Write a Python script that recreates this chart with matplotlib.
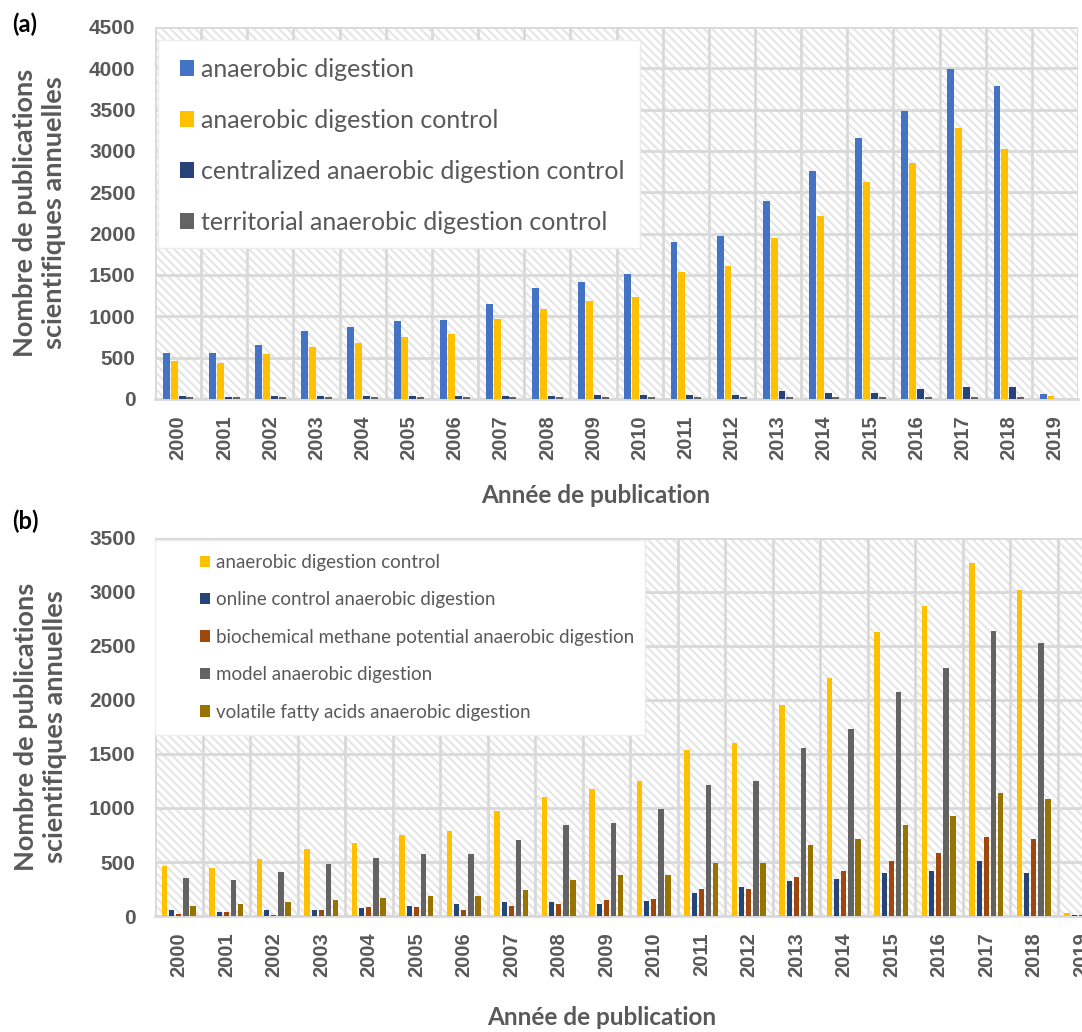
import matplotlib.pyplot as plt
import numpy as np
from matplotlib.patches import Rectangle

plt.rcParams['font.family'] = ['Lato', 'DejaVu Sans']
plt.rcParams['hatch.linewidth'] = 1.6
plt.rcParams['hatch.color'] = '#e6e6e6'

years = [str(y) for y in range(2000, 2020)]

# panel (a)
ad = [560, 560, 650, 820, 870, 940, 960, 1150, 1340, 1420, 1510, 1900, 1970, 2400, 2760, 3160, 3480, 3990, 3790, 60]
adc = [460, 440, 540, 630, 680, 750, 790, 970, 1090, 1180, 1230, 1540, 1610, 1950, 2210, 2620, 2860, 3280, 3020, 30]
central = [30, 20, 30, 30, 30, 30, 30, 30, 30, 50, 50, 50, 50, 100, 70, 70, 120, 145, 145, 0]
territorial = [25, 25, 25, 25, 25, 25, 25, 25, 25, 25, 20, 25, 20, 25, 20, 20, 20, 20, 20, 0]

# panel (b)
adc_b = [460, 440, 530, 620, 680, 750, 790, 970, 1100, 1180, 1250, 1540, 1600, 1950, 2200, 2630, 2870, 3270, 3020, 30]
online = [60, 40, 55, 55, 75, 95, 115, 130, 130, 115, 142, 216, 272, 327, 346, 401, 420, 509, 401, 10]
bmp = [20, 40, 5, 55, 80, 80, 60, 95, 115, 150, 160, 253, 253, 364, 420, 509, 583, 731, 713, 10]
model = [350, 333, 407, 481, 534, 571, 571, 700, 840, 860, 990, 1210, 1250, 1560, 1730, 2070, 2300, 2640, 2530, 0]
vfa = [96, 115, 133, 151, 170, 188, 188, 244, 333, 380, 380, 491, 491, 657, 713, 843, 930, 1140, 1080, 10]

labels_a = ['anaerobic digestion', 'anaerobic digestion control',
            'centralized anaerobic digestion control', 'territorial anaerobic digestion control']
labels_b = ['anaerobic digestion control', 'online control anaerobic digestion',
            'biochemical methane potential anaerobic digestion', 'model anaerobic digestion',
            'volatile fatty acids anaerobic digestion']
colors_a = ['#4472C4', '#FFC000', '#264478', '#636363']
colors_b = ['#FFC000', '#264478', '#9E480E', '#636363', '#997300']

txt = '#595959'
tickfont = ['Liberation Sans', 'DejaVu Sans']
fig = plt.figure(figsize=(10.82, 10.32), dpi=100)
ax1 = fig.add_axes([0.1433, 0.6134, 0.853, 0.3605])
ax2 = fig.add_axes([0.1433, 0.1124, 0.878, 0.3663])


def style(ax, ymax):
    x = np.arange(len(years))
    ax.set_xlim(-0.5, len(years) - 0.5)
    ax.set_ylim(0, ymax)
    ax.set_yticks(np.arange(0, ymax + 1, 500))
    ax.set_xticks(x)
    ax.set_xticklabels(years, rotation=90, fontsize=14.5, fontweight='bold', color=txt,
                       family=tickfont)
    for t in ax.get_yticklabels():
        t.set_fontsize(15)
        t.set_fontweight('bold')
        t.set_color(txt)
        t.set_family(tickfont)
    ax.set_xticks(np.arange(-0.5, len(years)), minor=True)
    ax.tick_params(axis='y', which='both', length=0, pad=14)
    ax.tick_params(axis='x', which='both', length=0, pad=12)
    ax.grid(axis='y', which='major', color='#d9d9d9', lw=2, zorder=1)
    ax.grid(axis='x', which='minor', color='#d9d9d9', lw=2, zorder=1)
    ax.set_axisbelow(True)
    for s in ax.spines.values():
        s.set_visible(False)
    ax.spines['bottom'].set_visible(True)
    ax.spines['bottom'].set_color('#d9d9d9')
    ax.spines['bottom'].set_linewidth(2)
    bg = Rectangle((0, 0), 1, 1, transform=ax.transAxes, facecolor='white',
                   hatch='\\\\\\\\', edgecolor='#e6e6e6', lw=0, zorder=0)
    ax.add_patch(bg)
    ax.set_ylabel('Nombre de publications\nscientifiques annuelles', fontsize=19.5,
                  fontweight='bold', color=txt, linespacing=1.25)
    ax.set_xlabel('Année de publication', fontsize=17.5, fontweight='bold', color=txt)


def legend_box(ax, fontsize, spacing, anchor, box):
    x0, y0, x1, y1 = box
    ax.add_patch(Rectangle((x0, y0), x1 - x0, y1 - y0, transform=ax.transAxes,
                           facecolor='white', edgecolor='#ececec', lw=1, zorder=2))
    leg = ax.legend(loc='upper left', bbox_to_anchor=anchor, fontsize=fontsize, frameon=False,
                    handlelength=0.56, handleheight=0.56, handletextpad=0.3,
                    labelspacing=spacing, borderpad=0, borderaxespad=0)
    for t in leg.get_texts():
        t.set_color(txt)


x = np.arange(len(years))
for i, (vals, c, lab) in enumerate(zip([ad, adc, central, territorial], colors_a, labels_a)):
    ax1.bar(x + (i - 1.5) * 0.17, vals, width=0.15, color=c, label=lab, zorder=3)
style(ax1, 4500)
legend_box(ax1, 18, 1.12, (0.027, 0.917), (0.003, 0.406, 0.5255, 0.965))
ax1.yaxis.set_label_coords(-0.096, 0.5)
ax1.xaxis.set_label_coords(0.477, -0.228)

for i, (vals, c, lab) in enumerate(zip([adc_b, online, bmp, model, vfa], colors_b, labels_b)):
    ax2.bar(x + (i - 2) * 0.15, vals, width=0.11, color=c, label=lab, zorder=3)
style(ax2, 3500)
legend_box(ax2, 13.5, 1.09, (0.047, 0.958), (0.0, 0.479, 0.516, 0.995))
ax2.yaxis.set_label_coords(-0.093, 0.5)
ax2.xaxis.set_label_coords(0.47, -0.238)

fig.text(0.011, 0.988, '(a)', fontsize=17, fontweight='bold', color='black', va='top')
fig.text(0.011, 0.506, '(b)', fontsize=17, fontweight='bold', color='black', va='top')

fig.savefig('out.png', dpi=100)
